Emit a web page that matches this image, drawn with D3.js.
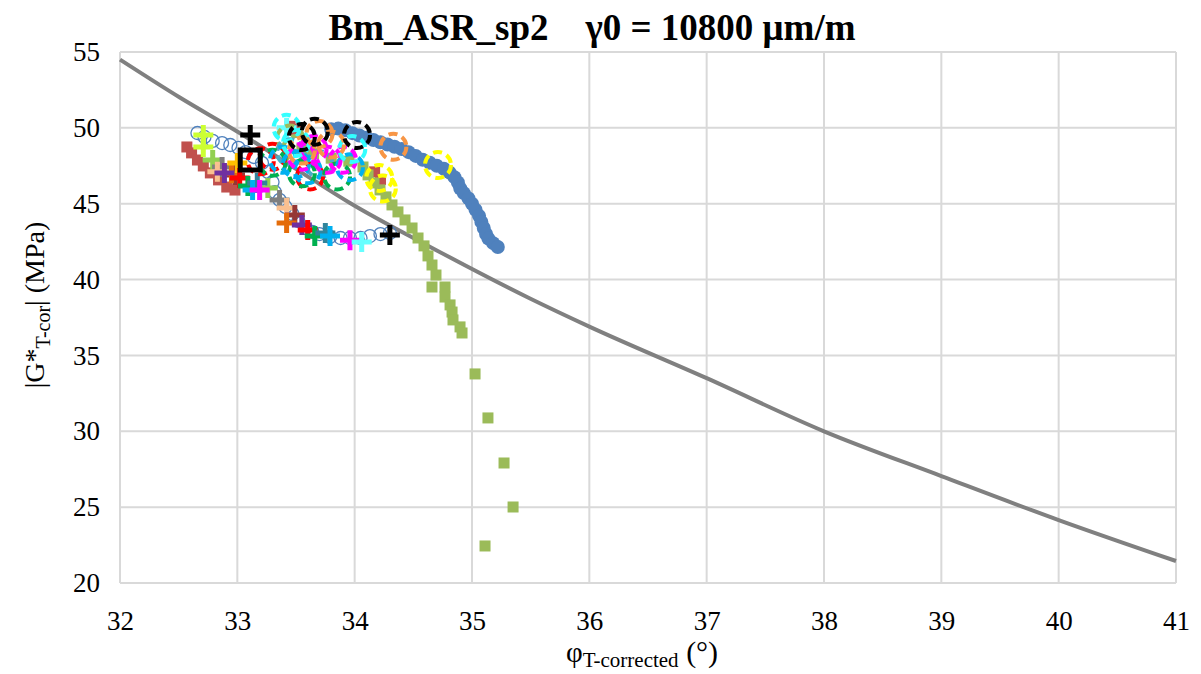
<!DOCTYPE html>
<html><head><meta charset="utf-8">
<script src="https://cdn.jsdelivr.net/npm/d3@7"></script>
<style>body{margin:0;background:#fff}svg{display:block}</style>
</head><body>
<script>
// ---- axis ticks ----
const xTicks = [32,33,34,35,36,37,38,39,40,41];
const yTicks = [20,25,30,35,40,45,50,55];

// ---- reference limit curve ----
const limitLine = [[32,54.5],[32.51,52.0],[33.02,49.66],[33.645,46.57],[33.96,45.05],[34.64,42.17],[35.49,38.77],[36,36.9],[37,33.5],[38,30.0],[39,27.05],[40,24.15],[41,21.45]];

// ---- filled blue circles ----
const blueFilled = [[33.80,49.90],[33.86,49.95],[33.92,49.85],[33.98,49.65],[34.04,49.5],[34.10,49.35],[34.16,49.2],[34.22,49.05],[34.28,48.9],[34.34,48.75],[34.40,48.6],[34.46,48.4],[34.52,48.15],[34.58,47.9],[34.64,47.7],[34.70,47.5],[34.76,47.3],[34.81,47.05],[34.85,46.75],[34.88,46.4],[34.90,46.0],[34.93,45.7],[34.97,45.35],[35.00,45.0],[35.03,44.6],[35.06,44.2],[35.08,43.8],[35.10,43.4],[35.12,43.0],[35.14,42.7],[35.18,42.4],[35.22,42.15]];

// ---- brown squares ----
const brownSquares = [[32.57,48.74],[32.61,48.35],[32.66,47.88],[32.71,47.49],[32.77,47.03],[32.84,46.57],[32.91,46.10],[32.98,45.9],[33.45,50.1],[33.5,49.9],[34.17,47.1],[34.22,46.6]];

// ---- green squares ----
const greenSquares = [[33.55,48.6],[33.65,48.3],[33.8,48.0],[33.95,47.8],[34.071,47.42],[34.114,46.90],[34.165,46.37],[34.216,45.91],[34.267,45.45],[34.318,44.92],[34.369,44.46],[34.429,43.93],[34.489,43.40],[34.540,42.74],[34.591,42.22],[34.625,41.56],[34.659,40.96],[34.693,40.30],[34.659,39.51],[34.770,39.51],[34.770,38.85],[34.813,38.33],[34.830,37.86],[34.838,37.34],[34.898,36.88],[34.915,36.48],[35.026,33.78],[35.136,30.88],[35.273,27.91],[35.350,25.01],[35.111,22.44]];

// ---- open blue circles ----
const blueOpen = [[32.66,49.66],[32.72,49.4],[32.79,49.14],[32.87,49.0],[32.94,48.87],[33.01,48.68],[33.07,48.4],[33.14,48.08],[33.21,47.69],[33.26,47.1],[33.30,46.43],[33.32,45.77],[33.36,45.25],[33.41,44.79],[33.47,44.32],[33.52,43.86],[33.58,43.4],[33.64,43.14],[33.70,43.0],[33.79,42.81],[33.88,42.74],[33.96,42.74],[34.05,42.74],[34.13,42.87],[34.22,43.0],[34.30,43.07]];

// ---- plus-marker series ----
const plusNames  = ["yellowgreen","lightgreen","gray","peach","brown","orange","gold","purple","red","green","teal","sky","magenta","lightcyan","black"];
const plusColors = ["#CCFF33","#92D050","#7F7F7F","#FAC090","#953735","#E46C0A","#FFC000","#7030A0","#FF0000","#00B050","#31849B","#00B0F0","#FF00FF","#66FFFF","#000000"];
const plusX = [[32.71,32.71],[32.79,33.26],[32.87,33.36],[32.83,33.42],[32.98,33.49],[32.95,33.42],[33.0],[32.89,33.55],[33.02,33.6],[33.09,33.66],[33.17,33.75],[33.13,33.79],[33.19,33.96],[33.42,34.06],[33.11,34.30]];
const plusY = [[49.53,48.74],[47.88,46.04],[47.42,45.25],[47.1,44.72],[46.9,44.26],[47.0,43.73],[47.69],[47.03,43.6],[46.7,43.27],[46.17,42.87],[46.37,43.07],[45.9,42.87],[45.9,42.6],[50.0,42.48],[49.53,42.94]];

// ---- dashed-circle series ----
const ringColors = ["#9BBB59","#4BACC6","#FF0000","#00B050","#00B0F0","#FF00FF","#33FFFF","#F79646","#FFFF00","#000000"];
const ringX = [[33.45,33.5],[33.45,33.7],[33.3,33.62,33.2],[33.3,33.85,33.55],[33.39,33.6,33.96,33.5],[33.55,33.77,33.9,33.65],[33.42,33.98,33.5],[33.70,33.80,34.33,33.55],[34.21,34.24,34.71],[33.55,33.66,34.02]];
const ringY = [[49.3,48.6],[48.4,47.6],[48.1,46.8,47.8],[47.7,46.8,47.0],[47.9,47.2,47.4,47.6],[48.1,47.9,47.9,48.6],[50.0,48.6,49.0],[49.6,48.9,48.75,48.5],[46.7,46.0,47.55],[49.4,49.75,49.53]];

// ---- black open square ----
const blackSquare = [[33.11,47.88]];

const W = 1201, H = 674;
const m = {l:120, r:1176, t:52, b:583};
const svg = d3.select("body").append("svg").attr("width",W).attr("height",H);
const x = d3.scaleLinear().domain([32,41]).range([m.l,m.r]);
const y = d3.scaleLinear().domain([20,55]).range([m.b,m.t]);
const serif = "'Liberation Serif','Times New Roman',serif";

// gridlines
svg.append("g").selectAll("line").data(xTicks).join("line")
  .attr("x1",d=>x(d)).attr("x2",d=>x(d)).attr("y1",m.t).attr("y2",m.b)
  .attr("stroke","#D9D9D9").attr("stroke-width",2);
svg.append("g").selectAll("line").data(yTicks).join("line")
  .attr("y1",d=>y(d)).attr("y2",d=>y(d)).attr("x1",m.l).attr("x2",m.r)
  .attr("stroke","#D9D9D9").attr("stroke-width",2);

// tick labels via axes
const xAxis = svg.append("g").attr("transform",`translate(0,${m.b})`)
  .call(d3.axisBottom(x).tickValues(xTicks).tickSize(0).tickPadding(28).tickFormat(d3.format("d")));
const yAxis = svg.append("g").attr("transform",`translate(${m.l},0)`)
  .call(d3.axisLeft(y).tickValues(yTicks).tickSize(0).tickPadding(20).tickFormat(d3.format("d")));
[xAxis,yAxis].forEach(a=>{a.select(".domain").remove();
  a.selectAll("text").attr("font-family",serif).attr("font-size",27).attr("fill","#000");});

// limit line
svg.append("path").datum(limitLine)
  .attr("d", d3.line().x(d=>x(d[0])).y(d=>y(d[1])).curve(d3.curveMonotoneX))
  .attr("fill","none").attr("stroke","#808080").attr("stroke-width",4);

// filled blue circles
svg.append("g").selectAll("circle").data(blueFilled).join("circle")
  .attr("cx",d=>x(d[0])).attr("cy",d=>y(d[1])).attr("r",7).attr("fill","#4F81BD");
// brown squares
svg.append("g").selectAll("rect").data(brownSquares).join("rect")
  .attr("x",d=>x(d[0])-5.5).attr("y",d=>y(d[1])-5.5).attr("width",11).attr("height",11).attr("fill","#C0504D");
// green squares
svg.append("g").selectAll("rect").data(greenSquares).join("rect")
  .attr("x",d=>x(d[0])-5.5).attr("y",d=>y(d[1])-5.5).attr("width",11).attr("height",11).attr("fill","#9BBB59");
// open circles
svg.append("g").selectAll("circle").data(blueOpen).join("circle")
  .attr("cx",d=>x(d[0])).attr("cy",d=>y(d[1])).attr("r",6.5)
  .attr("fill","none").attr("stroke","#4F81BD").attr("stroke-width",1.3);

// plus markers
const plusG = svg.append("g");
plusNames.forEach((n,i)=>{
  const pts = plusX[i].map((vx,j)=>[vx,plusY[i][j]]);
  plusG.append("g").selectAll("path").data(pts).join("path")
    .attr("d",d=>{const cx=x(d[0]),cy=y(d[1]),s=10;return `M${cx-s},${cy}H${cx+s}M${cx},${cy-s}V${cy+s}`;})
    .attr("stroke",plusColors[i]).attr("stroke-width",5).attr("fill","none");
});

// dashed rings
const ringG = svg.append("g");
ringColors.forEach((c,i)=>{
  const pts = ringX[i].map((vx,j)=>[vx,ringY[i][j]]);
  ringG.append("g").selectAll("circle").data(pts).join("circle")
    .attr("cx",d=>x(d[0])).attr("cy",d=>y(d[1])).attr("r",13)
    .attr("fill","none").attr("stroke",c).attr("stroke-width",4).attr("stroke-dasharray","9,5");
});

// black square
svg.append("g").selectAll("rect").data(blackSquare).join("rect")
  .attr("x",d=>x(d[0])-10).attr("y",d=>y(d[1])-10).attr("width",20).attr("height",20)
  .attr("fill","none").attr("stroke","#000").attr("stroke-width",5);

// title
svg.append("text").attr("x",592).attr("y",40).attr("text-anchor","middle")
  .attr("font-family",serif).attr("font-size",37).attr("font-weight","bold")
  .attr("xml:space","preserve").style("white-space","pre")
  .text("Bm_ASR_sp2    γ0 = 10800 μm/m");

// x label
const xl = svg.append("text").attr("x",642).attr("y",662).attr("text-anchor","middle")
  .attr("font-family",serif).attr("font-size",29);
xl.append("tspan").text("φ");
xl.append("tspan").attr("font-size",21).attr("dy",5).text("T-corrected");
xl.append("tspan").attr("font-size",30).attr("dy",-5).text(" (°)");

// y label
const yl = svg.append("text").attr("transform","translate(44,305) rotate(-90)").attr("text-anchor","middle")
  .attr("font-family",serif).attr("font-size",28);
yl.append("tspan").text("|G*");
yl.append("tspan").attr("font-size",20).attr("dy",6).text("T-cor");
yl.append("tspan").attr("dy",-6).text("| (MPa)");
</script>
</body></html>
